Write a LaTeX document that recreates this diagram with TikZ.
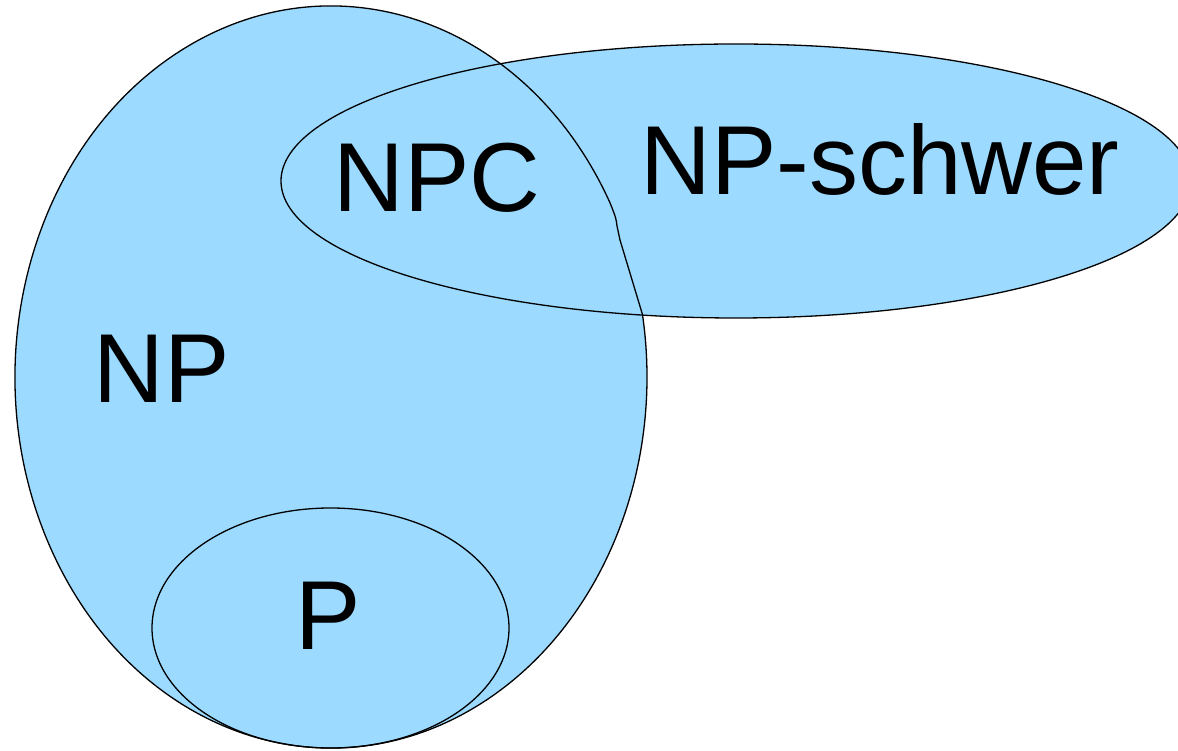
\documentclass[tikz,border=0pt]{standalone}
\usepackage{fontspec}
\setmainfont{Liberation Sans}
\definecolor{setblue}{HTML}{9CDAFF}
\begin{document}
\begin{tikzpicture}[x=1pt,y=1pt,
  setfill/.style={fill=setblue},
  setline/.style={draw=black,line width=1.3pt},
  lbl/.style={anchor=base,inner sep=0pt,font=\fontsize{98}{110}\selectfont}]
\useasboundingbox (0,0) rectangle (1178,750);
\clip (0,0) rectangle (1178,750);
% shapes
\coordinate (npk1) at (620,510);
\coordinate (npk2) at (617,524);
\def\npshape{(331,373) ++(28:316 and 371) arc[start angle=28,end angle=369.7,x radius=316,y radius=371] -- (npk1) .. controls (618,517) .. (npk2) .. controls (616,532) .. cycle}
\fill[setfill] \npshape;
\fill[setfill] (736,569) ellipse[x radius=455,y radius=137];
\draw[setline] \npshape;
\draw[setline] (736,569) ellipse[x radius=455,y radius=137];
\draw[setline] (330.5,122) ellipse[x radius=178.5,y radius=120];
% labels
\node[lbl] (npc) at (437,538) {NPC};
\node[lbl] (nphard) at (880,555) {NP-schwer};
\node[lbl] (np) at (162,347) {NP};
\node[lbl] (p) at (328,100) {P};
\end{tikzpicture}
\end{document}
